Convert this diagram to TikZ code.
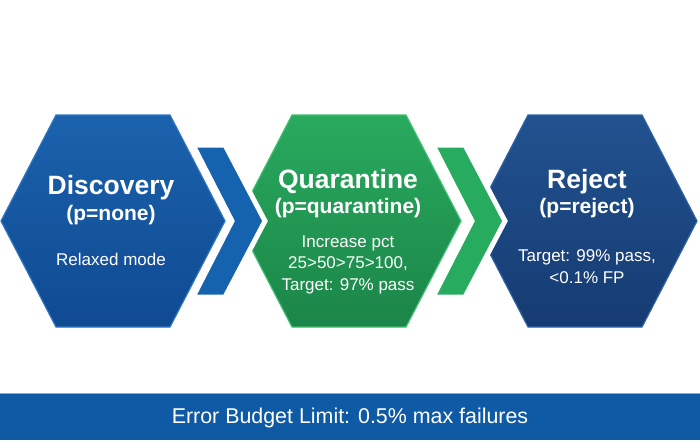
\documentclass[tikz,border=0pt]{standalone}
\usepackage{fontspec}
\setmainfont{Liberation Sans}
\usetikzlibrary{positioning}

\definecolor{disctop}{HTML}{1B62AC}
\definecolor{discbot}{HTML}{0F4A92}
\definecolor{discline}{HTML}{2F76C2}
\definecolor{quartop}{HTML}{29AA5E}
\definecolor{quarbot}{HTML}{1B8548}
\definecolor{quarline}{HTML}{3FBF70}
\definecolor{rejtop}{HTML}{21528F}
\definecolor{rejbot}{HTML}{163B72}
\definecolor{rejline}{HTML}{2F63A6}
\definecolor{chevblue}{HTML}{1563AE}
\definecolor{chevgreen}{HTML}{27AB5F}
\definecolor{bandblue}{HTML}{0E5AA5}

\tikzset{
  hexstage/.pic={
    \path[pic actions] (-57,-106) -- (57,-106) -- (112,0) -- (57,106)
      -- (-57,106) -- (-112,0) -- cycle;
  },
  chevron/.pic={
    \path[pic actions] (-40,-76) -- (-8,-76) -- (32,0) -- (-8,76)
      -- (-40,76) -- (-1,0) -- cycle;
  },
  title/.style={text=white, anchor=base, inner sep=0pt,
    font=\bfseries\fontsize{26.5}{30}\selectfont},
  subtitle/.style={text=white, anchor=base, inner sep=0pt,
    font=\bfseries\fontsize{21}{25}\selectfont},
  body/.style={text=white, anchor=base, inner sep=0pt, align=center,
    font=\fontsize{17}{21.5}\selectfont},
}

\begin{document}
\begin{tikzpicture}[x=1pt, y=-1pt]
    \useasboundingbox (0,0) rectangle (700,440);
    \fill[white] (0,0) rectangle (700,440);

    % Stage hexagons
    \pic[top color=disctop, bottom color=discbot, draw=discline, line width=1.2pt] at (113,221) {hexstage};
    \pic[top color=quartop, bottom color=quarbot, draw=quarline, line width=1.2pt] at (349,221) {hexstage};
    \pic[top color=rejtop, bottom color=rejbot, draw=rejline, line width=1.2pt] at (585,221) {hexstage};

    % Chevrons between stages
    \pic[fill=chevblue, draw=white, line width=5pt] at (233,221) {chevron};
    \pic[fill=chevgreen, draw=white, line width=5pt] at (473,221) {chevron};

    % Discovery
    \node[title] (discovery) at (111,194) {Discovery};
    \node[subtitle] (discp) at (111,220) {(p=none)};
    \node[body] (discmode) at (111,265) {Relaxed mode};

    % Quarantine (base = last line)
    \node[title] (quarantine) at (348,188) {Quarantine};
    \node[subtitle] (quarp) at (348,213.5) {(p=quarantine)};
    \node[body] (quarmode) at (348,290) {Increase pct\\25>50>75>100,\\Target: 97\% pass};

    % Reject
    \node[title] (reject) at (587,188) {Reject};
    \node[subtitle] (rejp) at (587,213.5) {(p=reject)};
    \node[body] (rejmode) at (587,283) {Target: 99\% pass,\\<0.1\% FP};

    % Error budget band
    \fill[bandblue] (0,393) rectangle (700,440);
    \draw[discline!60, line width=1pt] (0,393) -- (700,393);
    \node[text=white, anchor=base, inner sep=0pt, font=\fontsize{21.4}{25}\selectfont] (budget) at (350,423) {Error Budget Limit: 0.5\% max failures};
\end{tikzpicture}
\end{document}
